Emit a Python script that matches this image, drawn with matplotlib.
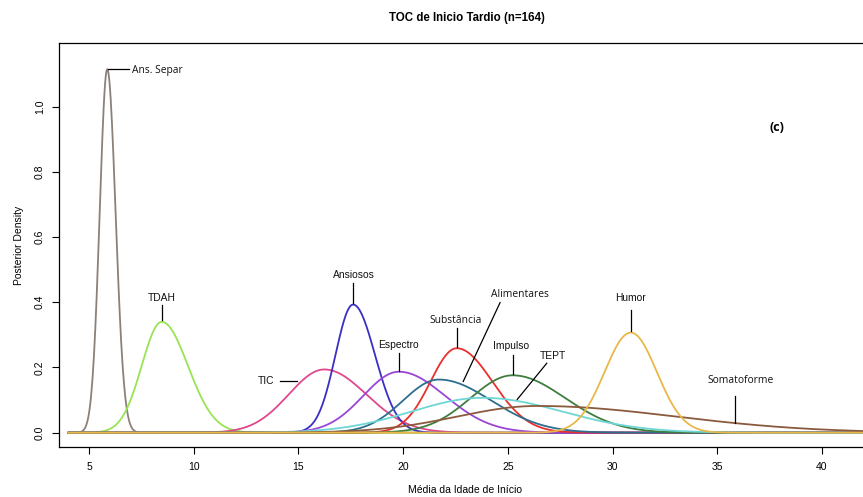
import numpy as np
import matplotlib
matplotlib.use("Agg")
import matplotlib.pyplot as plt

# Posterior densities of the mean age of onset per comorbidity group
groups = ["Ans. Separ", "TDAH", "TIC", "Ansiosos", "Espectro", "Substância",
          "Alimentares", "Impulso", "TEPT", "Somatoforme", "Humor"]
modes = [5.87, 8.47, 16.24, 17.61, 19.80, 22.56, 21.70, 25.23, 23.80, 26.40, 30.87]
peaks = [1.115, 0.340, 0.194, 0.393, 0.187, 0.259, 0.163, 0.176, 0.107, 0.082, 0.307]
spread_left = [0.36, 0.95, 1.70, 0.84, 1.70, 1.25, 1.70, 2.00, 3.40, 3.80, 1.25]
spread_right = [0.40, 1.25, 2.00, 1.05, 2.20, 1.70, 2.50, 2.50, 3.80, 6.60, 1.25]

colors = ["#8c8078", "#98e454", "#e0488c", "#3a2fc4", "#9b45d6", "#e8312e",
          "#2d6e8e", "#3f7d3f", "#6fd6d6", "#8b5a3c", "#eab84a"]

x_ticks = [5, 10, 15, 20, 25, 30, 35, 40]
y_ticks = [0.0, 0.2, 0.4, 0.6, 0.8, 1.0]

# label placement: (text x, text y, leader start, leader end, font family)
label_layout = {
    "Ans. Separ":  dict(tx=7.05, ty=1.112, ha="left", seg=((5.93, 1.115), (6.90, 1.115)), fam="Open Sans"),
    "TDAH":        dict(tx=8.49, ty=0.413, ha="center", seg=((8.49, 0.391), (8.49, 0.346)), fam="Liberation Sans"),
    "TIC":         dict(tx=13.45, ty=0.160, ha="center", seg=((14.12, 0.158), (14.93, 0.158)), fam="Liberation Sans"),
    "Ansiosos":    dict(tx=17.65, ty=0.483, ha="center", seg=((17.62, 0.459), (17.62, 0.397)), fam="Liberation Sans"),
    "Espectro":    dict(tx=19.80, ty=0.269, ha="center", seg=((19.80, 0.244), (19.80, 0.190)), fam="Liberation Sans"),
    "Substância":  dict(tx=22.50, ty=0.345, ha="center", seg=((22.56, 0.320), (22.56, 0.262)), fam="Open Sans"),
    "Alimentares": dict(tx=25.60, ty=0.425, ha="center", seg=((24.63, 0.399), (22.87, 0.157)), fam="Open Sans"),
    "Impulso":     dict(tx=25.15, ty=0.266, ha="center", seg=((25.23, 0.238), (25.23, 0.179)), fam="Liberation Sans"),
    "TEPT":        dict(tx=27.16, ty=0.235, ha="center", seg=((26.86, 0.213), (25.45, 0.102)), fam="Liberation Sans"),
    "Somatoforme": dict(tx=36.14, ty=0.161, ha="center", seg=((35.85, 0.113), (35.85, 0.029)), fam="Open Sans"),
    "Humor":       dict(tx=30.88, ty=0.413, ha="center", seg=((30.88, 0.375), (30.88, 0.312)), fam="Liberation Sans"),
}

fig = plt.figure(figsize=(8.63, 4.97), dpi=100)
ax = fig.add_axes([59 / 863, 50 / 497, (870 - 59) / 863, 404 / 497])

grid = np.linspace(4.0, 44.0, 1200)
for name, m, p, sl, sr, c in zip(groups, modes, peaks, spread_left, spread_right, colors):
    s = np.where(grid < m, sl, sr)
    dens = p * np.exp(-0.5 * ((grid - m) / s) ** 2)
    ax.plot(grid, dens, color=c, lw=1.3, solid_capstyle="round")

for name in groups:
    lay = label_layout[name]
    (x0, y0), (x1, y1) = lay["seg"]
    ax.plot([x0, x1], [y0, y1], color="black", lw=0.9)
    ax.text(lay["tx"], lay["ty"], name, ha=lay["ha"], va="center",
            fontsize=7.4, family=lay["fam"], color="#111111")

ax.text(37.86, 0.937, "(c)", ha="center", va="center", fontsize=9,
        fontweight="bold", family="Open Sans")

ax.set_xlim(3.567, 5 + (870 - 89) / 20.94)
ax.set_ylim(-0.0439, 1.1954)
ax.set_xticks(x_ticks)
ax.set_xticklabels([str(t) for t in x_ticks], fontsize=7.5, family="Liberation Sans")
ax.set_yticks(y_ticks)
ax.set_yticklabels([f"{t:.1f}" for t in y_ticks], fontsize=7.5, family="Liberation Sans",
                   rotation=90, va="center")
ax.tick_params(direction="out", length=5, width=0.8)
ax.tick_params(axis="x", pad=6)
ax.tick_params(axis="y", pad=5)
for sp in ax.spines.values():
    sp.set_linewidth(0.9)

ax.set_xlabel("Média da Idade de Início", fontsize=7.5, family="Liberation Sans", labelpad=9)
ax.set_ylabel("Posterior Density", fontsize=7.5, family="Liberation Sans", labelpad=8)
fig.text(467 / 863, 1 - 18 / 497, "TOC de Inicio Tardio (n=164)", ha="center", va="center",
         fontsize=8.3, fontweight="bold", family="Liberation Sans")

fig.savefig("out.png", dpi=100)
